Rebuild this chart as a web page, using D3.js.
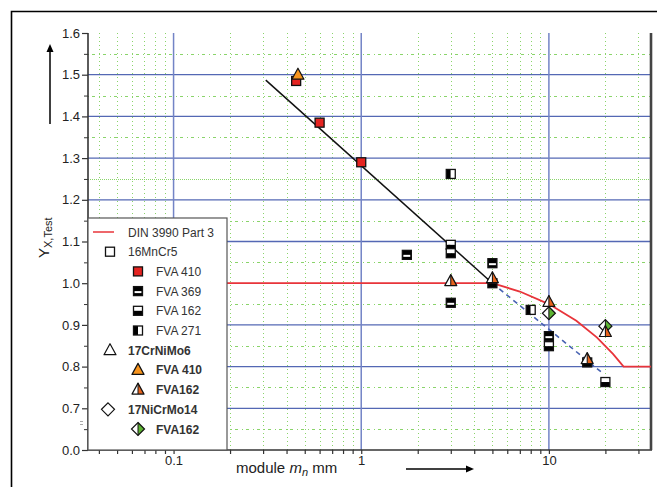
<!DOCTYPE html>
<html>
<head>
<meta charset="utf-8">
<script src="https://cdn.jsdelivr.net/npm/d3@7"></script>
<style>
  body { margin: 0; background: #fff; }
  svg { display: block; font-family: 'Liberation Sans', Arial, sans-serif; }
</style>
</head>
<body>
<svg id="chart" width="657" height="487"></svg>
<script>
// axis ticks (the bottom label is a broken axis: 0.6 position is labelled 0.0)
const yTickValues = [0.6, 0.7, 0.8, 0.9, 1.0, 1.1, 1.2, 1.3, 1.4, 1.5, 1.6];
const yTickLabels = ['0.0', '0.7', '0.8', '0.9', '1.0', '1.1', '1.2', '1.3', '1.4', '1.5', '1.6'];
const xTickValues = [0.1, 1, 10];
const xTickLabels = ['0.1', '1', '10'];

// lines [module, Y]
const dinCurve = [[0.035, 1.0], [5, 1.0], [7, 0.98], [10, 0.95], [14, 0.91], [18, 0.87], [22, 0.83], [25, 0.8], [35, 0.8]];
const trendLine = [[0.31, 1.487], [5, 1.0]];
const trendDashed = [[5, 1.0], [19, 0.787]];

// 16MnCr5
const mnCr5Fva410 = [[0.45, 1.485], [0.6, 1.385], [1.0, 1.29]];
const mnCr5Fva369 = [[1.75, 1.068], [5, 1.048], [3, 0.953], [10, 0.873]];
const mnCr5Fva162 = [[3, 1.092], [3, 1.072], [5, 1.0], [10, 0.849], [16, 0.81], [20, 0.763]];
const mnCr5Fva271 = [[3, 1.262], [8, 0.936]];
// 17CrNiMo6
const crNiMo6Fva410 = [[0.46, 1.5]];
const crNiMo6Fva162 = [[3, 1.005], [5, 1.012], [10, 0.955], [16, 0.818], [20, 0.883]];
// 17NiCrMo14
const niCrMo14Fva162 = [[10, 0.928], [20, 0.897]];

const legendItems = [
  {label: 'DIN 3990 Part 3', marker: 'line', level: 0, bold: false},
  {label: '16MnCr5', marker: 'sq-open', level: 0, bold: false},
  {label: 'FVA 410', marker: 'sq-red', level: 1, bold: false},
  {label: 'FVA 369', marker: 'sq-369', level: 1, bold: false},
  {label: 'FVA 162', marker: 'sq-162', level: 1, bold: false},
  {label: 'FVA 271', marker: 'sq-271', level: 1, bold: false},
  {label: '17CrNiMo6', marker: 'tri-open', level: 0, bold: true},
  {label: 'FVA 410', marker: 'tri-orange', level: 1, bold: true},
  {label: 'FVA162', marker: 'tri-half', level: 1, bold: true},
  {label: '17NiCrMo14', marker: 'dia-open', level: 0, bold: true},
  {label: 'FVA162', marker: 'dia-half', level: 1, bold: true},
];

const plot = {left: 88, right: 651, top: 33, bottom: 450};
const blueGrid = '#5468b4';
const greenGrid = '#8ad46a';

const svg = d3.select('#chart');
const x = d3.scaleLog().domain([0.035, 35]).range([plot.left, plot.right]);
const y = d3.scaleLinear().domain([0.6, 1.6]).range([plot.bottom, plot.top]);
const line = d3.line().x((d) => x(d[0])).y((d) => y(d[1]));

drawFrame();
drawGrid();
drawAxes();
drawLines();
drawPoints();
drawLegend();

function drawFrame() {
  svg.append('path')
    .attr('d', 'M11.5,487 V11.5 H657')
    .attr('fill', 'none')
    .attr('stroke', '#000')
    .attr('stroke-width', 1.6);
}

function drawGrid() {
  const g = svg.append('g');
  const minorX = x.ticks().filter((v) => Math.abs(Math.log10(v) - Math.round(Math.log10(v))) > 1e-6);
  const minorY = d3.range(13, 32, 2).map((v) => v / 20);

  g.selectAll('.gx').data(minorX).join('line')
    .attr('x1', (d) => Math.round(x(d)) + 0.5).attr('x2', (d) => Math.round(x(d)) + 0.5)
    .attr('y1', plot.top).attr('y2', plot.bottom)
    .attr('stroke', greenGrid).attr('stroke-width', 1).attr('stroke-dasharray', '1,3');

  g.selectAll('.gy').data(minorY).join('line')
    .attr('x1', plot.left).attr('x2', plot.right)
    .attr('y1', (d) => Math.round(y(d)) + 0.5).attr('y2', (d) => Math.round(y(d)) + 0.5)
    .attr('stroke', greenGrid).attr('stroke-width', 1)
    .attr('stroke-dasharray', (d) => (Math.abs(d - 1.25) < 1e-6 ? '1,1' : '1,3,3,4'));

  g.selectAll('.by').data(yTickValues.filter((v) => v > 0.65 && v < 1.55 && Math.abs(v - 1) > 1e-6)).join('line')
    .attr('x1', plot.left).attr('x2', plot.right)
    .attr('y1', (d) => y(d)).attr('y2', (d) => y(d))
    .attr('stroke', blueGrid).attr('stroke-width', 1.3);

  g.selectAll('.bx').data(xTickValues).join('line')
    .attr('x1', (d) => x(d)).attr('x2', (d) => x(d))
    .attr('y1', plot.top).attr('y2', plot.bottom)
    .attr('stroke', '#7384c6').attr('stroke-width', 1.5);
}

function drawAxes() {
  const yAxis = d3.axisLeft(y)
    .tickValues(yTickValues)
    .tickSize(6)
    .tickFormat((d, i) => yTickLabels[i]);
  const ga = svg.append('g').attr('transform', `translate(${plot.left},0)`).call(yAxis);
  ga.select('.domain').remove();
  ga.selectAll('line').attr('stroke', '#333').attr('stroke-width', 1.2);
  ga.selectAll('text').attr('font-size', 13).attr('fill', '#222').attr('font-family', null).attr('x', -8);

  const yMinor = d3.axisLeft(y).tickValues(d3.range(13, 32, 2).map((v) => v / 20)).tickSize(4).tickFormat('');
  const gm = svg.append('g').attr('transform', `translate(${plot.left},0)`).call(yMinor);
  gm.select('.domain').remove();
  gm.selectAll('line').attr('stroke', '#333');

  const xAxis = d3.axisBottom(x)
    .tickValues(x.ticks())
    .tickSize(4)
    .tickFormat((d) => {
      const i = xTickValues.findIndex((v) => Math.abs(v - d) < 1e-9);
      return i >= 0 ? xTickLabels[i] : '';
    });
  const gx = svg.append('g').attr('transform', `translate(0,${plot.bottom})`).call(xAxis);
  gx.select('.domain').remove();
  gx.selectAll('line').attr('stroke', '#333').attr('stroke-width', 1.2);
  gx.selectAll('text').attr('font-size', 13).attr('fill', '#222').attr('font-family', null).attr('y', 6);

  svg.append('line')
    .attr('x1', plot.left).attr('x2', plot.left).attr('y1', plot.top).attr('y2', plot.bottom)
    .attr('stroke', '#333').attr('stroke-width', 1.6);
  svg.append('line')
    .attr('x1', plot.left).attr('x2', plot.right + 1).attr('y1', plot.bottom).attr('y2', plot.bottom)
    .attr('stroke', '#333').attr('stroke-width', 1.6);
  svg.append('line')
    .attr('x1', plot.right).attr('x2', plot.right).attr('y1', plot.top).attr('y2', plot.bottom)
    .attr('stroke', '#444').attr('stroke-width', 2.6);

  // axis break marks
  svg.append('path').attr('d', 'M80,421.5 h3 M80,424.5 h3').attr('stroke', '#aaa').attr('stroke-width', 1);

  // y label with arrow
  const yl = svg.append('text')
    .attr('transform', 'translate(49,258) rotate(-90)')
    .attr('font-size', 15).attr('fill', '#222');
  yl.append('tspan').text('Y');
  yl.append('tspan').attr('font-size', 11).attr('dy', 3).text('X,Test');
  svg.append('line').attr('x1', 50).attr('x2', 50).attr('y1', 124).attr('y2', 50)
    .attr('stroke', '#000').attr('stroke-width', 1.5);
  svg.append('path').attr('d', 'M50,44 L46.5,52 L53.5,52 Z').attr('fill', '#000');

  // x label with arrow
  const xl = svg.append('text').attr('x', 236).attr('y', 473).attr('font-size', 15).attr('fill', '#222');
  xl.append('tspan').text('module ');
  xl.append('tspan').attr('font-style', 'italic').text('m');
  xl.append('tspan').attr('font-style', 'italic').attr('font-size', 11).attr('dy', 3).text('n');
  xl.append('tspan').attr('dy', -3).text(' mm');
  svg.append('line').attr('x1', 406).attr('x2', 468).attr('y1', 469).attr('y2', 469)
    .attr('stroke', '#000').attr('stroke-width', 1.5);
  svg.append('path').attr('d', 'M474,469 L466,465.5 L466,472.5 Z').attr('fill', '#000');
}

function drawLines() {
  svg.append('path').datum(dinCurve).attr('d', line)
    .attr('fill', 'none').attr('stroke', '#e8343a').attr('stroke-width', 1.8);
  svg.append('path').datum(trendLine).attr('d', line)
    .attr('fill', 'none').attr('stroke', '#111').attr('stroke-width', 1.5);
  svg.append('path').datum(trendDashed).attr('d', line)
    .attr('fill', 'none').attr('stroke', '#4863b2').attr('stroke-width', 1.6).attr('stroke-dasharray', '5,4');
}

function drawMarker(g, kind) {
  const stroke = '#111';
  if (kind.startsWith('sq')) {
    const s = 9, h = s / 2;
    if (kind === 'sq-open') g.append('rect').attr('x', -h).attr('y', -h).attr('width', s).attr('height', s).attr('fill', '#fff');
    if (kind === 'sq-red') g.append('rect').attr('x', -h).attr('y', -h).attr('width', s).attr('height', s).attr('fill', '#e52421');
    if (kind === 'sq-369') {
      g.append('rect').attr('x', -h).attr('y', -h).attr('width', s).attr('height', s).attr('fill', '#000');
      g.append('rect').attr('x', -h + 1).attr('y', 0).attr('width', s - 2).attr('height', 2).attr('fill', '#fff');
    }
    if (kind === 'sq-162') {
      g.append('rect').attr('x', -h).attr('y', -h).attr('width', s).attr('height', h).attr('fill', '#fff');
      g.append('rect').attr('x', -h).attr('y', 0).attr('width', s).attr('height', h).attr('fill', '#000');
    }
    if (kind === 'sq-271') {
      g.append('rect').attr('x', -h).attr('y', -h).attr('width', h).attr('height', s).attr('fill', '#000');
      g.append('rect').attr('x', 0).attr('y', -h).attr('width', h).attr('height', s).attr('fill', '#fff');
    }
    g.append('rect').attr('x', -h).attr('y', -h).attr('width', s).attr('height', s)
      .attr('fill', 'none').attr('stroke', stroke).attr('stroke-width', 1.3);
  } else if (kind.startsWith('tri')) {
    const t = -6.5, b = 4.5, w = 6;
    const outline = `M0,${t} L${w},${b} L${-w},${b} Z`;
    if (kind === 'tri-open') g.append('path').attr('d', outline).attr('fill', '#fff');
    if (kind === 'tri-orange') g.append('path').attr('d', outline).attr('fill', '#f7941d');
    if (kind === 'tri-half') {
      g.append('path').attr('d', `M0,${t} L0,${b} L${-w},${b} Z`).attr('fill', '#fff');
      g.append('path').attr('d', `M0,${t} L${w},${b} L0,${b} Z`).attr('fill', '#e8641c');
      g.append('line').attr('x1', 0).attr('x2', 0).attr('y1', t).attr('y2', b).attr('stroke', stroke).attr('stroke-width', 1);
    }
    g.append('path').attr('d', outline).attr('fill', 'none').attr('stroke', stroke)
      .attr('stroke-width', 1.2).attr('stroke-linejoin', 'round');
  } else if (kind.startsWith('dia')) {
    const r = 6.5;
    const outline = `M0,${-r} L${r},0 L0,${r} L${-r},0 Z`;
    if (kind === 'dia-open') g.append('path').attr('d', outline).attr('fill', '#fff');
    if (kind === 'dia-half') {
      g.append('path').attr('d', `M0,${-r} L0,${r} L${-r},0 Z`).attr('fill', '#fff');
      g.append('path').attr('d', `M0,${-r} L${r},0 L0,${r} Z`).attr('fill', '#5db332');
      g.append('line').attr('x1', 0).attr('x2', 0).attr('y1', -r).attr('y2', r).attr('stroke', stroke).attr('stroke-width', 1);
    }
    g.append('path').attr('d', outline).attr('fill', 'none').attr('stroke', stroke).attr('stroke-width', 1.2);
  }
}

function drawSeries(data, kind) {
  svg.append('g').selectAll('g').data(data).join('g')
    .attr('transform', (d) => `translate(${x(d[0])},${y(d[1])})`)
    .each(function () { drawMarker(d3.select(this), kind); });
}

function drawPoints() {
  drawSeries(mnCr5Fva410, 'sq-red');
  drawSeries(mnCr5Fva369, 'sq-369');
  drawSeries(mnCr5Fva162, 'sq-162');
  drawSeries(mnCr5Fva271, 'sq-271');
  drawSeries(niCrMo14Fva162, 'dia-half');
  drawSeries(crNiMo6Fva410, 'tri-orange');
  drawSeries(crNiMo6Fva162, 'tri-half');
}

function drawLegend() {
  const box = {x: 88, y: 218, w: 139, h: 232};
  const g = svg.append('g');
  g.append('rect').attr('x', box.x).attr('y', box.y).attr('width', box.w).attr('height', box.h)
    .attr('fill', '#fff').attr('stroke', '#555').attr('stroke-width', 1.2);

  const rowY = d3.scaleLinear().domain([0, legendItems.length - 1]).range([232, 429]);
  const row = g.selectAll('g').data(legendItems).join('g')
    .attr('transform', (d, i) => `translate(0,${rowY(i)})`);

  row.each(function (d) {
    const r = d3.select(this);
    const mx = d.level === 0 ? (d.marker.startsWith('dia') ? 108 : 110) : 138;
    if (d.marker === 'line') {
      r.append('line').attr('x1', 93).attr('x2', 114).attr('y1', 0).attr('y2', 0)
        .attr('stroke', '#e8343a').attr('stroke-width', 1.5);
    } else {
      drawMarker(r.append('g').attr('transform', `translate(${mx},0)`), d.marker);
    }
    r.append('text')
      .attr('x', d.level === 0 ? 128 : 156)
      .attr('y', 4.5)
      .attr('font-size', 12)
      .attr('font-weight', d.bold ? 'bold' : 'normal')
      .attr('fill', '#333')
      .text(d.label);
  });
}
</script>
</body>
</html>
